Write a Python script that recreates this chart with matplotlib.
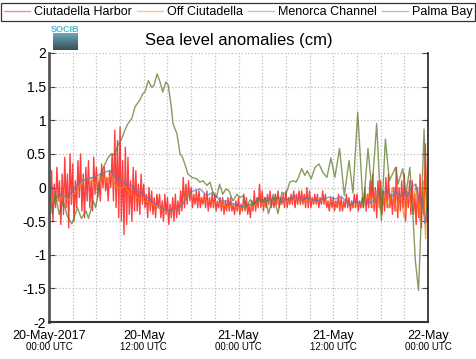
import numpy as np
import pandas as pd
import matplotlib
matplotlib.use('Agg')
import matplotlib.pyplot as plt
import matplotlib.dates as mdates

plt.rcParams['font.family'] = ['Liberation Sans', 'DejaVu Sans']

###############################################################################
# Data (hours since 20-May-2017 00:00 UTC, sea level anomaly in cm)
###############################################################################
START = pd.Timestamp('2017-05-20 00:00')
NAMES = ['Ciutadella Harbor', 'Off Ciutadella', 'Menorca Channel', 'Palma Bay']

# Ciutadella Harbor, sampled every 10 min (one row per hour)
harbor_step = 1 / 6
harbor_v = [
    0.1, -0.35, 0.25, -0.5, 0.05, -0.3,
    0.3, -0.2, 0.1, -0.55, 0.2, -0.4,
    0.45, -0.3, 0.2, -0.6, 0.5, -0.25,
    0.35, -0.5, 0.1, -0.3, 0.4, -0.15,
    0.5, -0.35, 0.2, -0.45, 0.3, -0.2,
    0.4, -0.3, 0.1, -0.35, 0.45, -0.1,
    0.3, -0.15, 0.1, -0.2, 0.35, 0.0,
    0.3, -0.05, 0.15, -0.2, 0.25, 0.0,
    0.5, -0.2, 0.85, -0.3, 0.7, -0.45,
    0.9, -0.5, 0.4, -0.7, 0.6, -0.55,
    0.45, -0.4, 0.1, -0.5, 0.3, -0.35,
    0.25, -0.35, 0.05, -0.4, 0.2, -0.25,
    0.05, -0.3, -0.1, -0.45, 0.0, -0.35,
    -0.05, -0.4, -0.15, -0.45, -0.1, -0.3,
    -0.1, -0.45, -0.2, -0.5, -0.1, -0.4,
    -0.15, -0.55, -0.25, -0.45, -0.15, -0.5,
    -0.1, -0.45, -0.2, -0.4, -0.05, -0.35,
    0.15, -0.3, 0.05, -0.25, 0.1, -0.2,
    0.0, -0.3, -0.1, -0.25, -0.05, -0.3,
    -0.05, -0.3, -0.15, -0.25, -0.1, -0.3,
    -0.05, -0.35, -0.15, -0.3, -0.1, -0.3,
    -0.1, -0.35, -0.2, -0.3, -0.15, -0.35,
    -0.15, -0.4, -0.2, -0.35, -0.15, -0.35,
    -0.15, -0.35, -0.25, -0.4, -0.2, -0.35,
    -0.15, -0.4, -0.25, -0.35, -0.1, -0.35,
    -0.15, -0.4, -0.25, -0.45, -0.2, -0.35,
    -0.05, -0.35, -0.15, -0.3, 0.05, -0.3,
    -0.05, -0.35, -0.15, -0.3, -0.1, -0.25,
    -0.05, -0.3, -0.15, -0.3, -0.1, -0.25,
    -0.05, -0.3, -0.15, -0.25, -0.1, -0.3,
    -0.05, -0.3, -0.15, -0.25, -0.1, -0.25,
    -0.05, -0.3, -0.1, -0.25, -0.05, -0.25,
    -0.05, -0.25, -0.1, -0.3, 0.0, -0.3,
    -0.05, -0.3, -0.15, -0.25, -0.1, -0.25,
    -0.1, -0.3, -0.15, -0.25, -0.05, -0.25,
    -0.1, -0.3, -0.2, -0.35, -0.15, -0.3,
    -0.15, -0.35, -0.2, -0.3, -0.1, -0.35,
    -0.15, -0.35, -0.2, -0.3, -0.1, -0.3,
    -0.15, -0.35, -0.2, -0.3, -0.1, -0.3,
    -0.1, -0.35, -0.2, -0.3, -0.15, -0.3,
    0.0, -0.35, -0.1, -0.3, 0.1, -0.3,
    0.2, -0.35, 0.0, -0.45, 0.1, -0.3,
    0.1, -0.4, -0.05, -0.35, 0.15, -0.3,
    0.2, -0.3, -0.1, -0.4, 0.0, -0.35,
    0.3, -0.45, 0.0, -0.35, 0.1, -0.3,
    0.2, -0.5, -0.05, -0.3, 0.1, -0.4,
    0.1, -0.4, -0.1, -0.55, 0.0, -0.45,
    0.2, -0.6, 0.0, -0.4, 0.65, -0.5,
]

off_t = [0.1, 0.5, 0.9, 1.4, 1.9, 2.4, 2.9, 3.5, 4.3, 5.2, 5.8, 6.5, 7.3, 7.9,
         8.4, 9.0, 9.6, 10.3, 11.1, 11.9, 12.7, 13.6, 14.5, 15.3, 16.0, 16.6,
         17.2, 17.6, 18.3, 19.1, 20.0, 20.8, 21.7, 22.5, 23.3, 24.2, 25.0,
         25.8, 26.5, 27.2, 28.0, 28.8, 29.6, 30.4, 31.2, 32.0, 32.8, 33.6,
         34.4, 35.2, 36.0, 36.8, 37.6, 38.4, 39.2, 40.0, 40.5, 41.0, 41.5,
         42.0, 42.5, 43.0, 43.5, 44.0, 44.5, 45.0, 45.5, 46.0, 46.5, 47.0,
         47.4, 47.7, 47.9]
off_v = [-0.05, -0.2, -0.08, -0.2, -0.1, -0.2, -0.12, -0.05, 0.1, 0.15, 0.05,
         0.18, 0.08, 0.2, 0.03, -0.02, 0.02, -0.1, -0.14, -0.2, -0.22, -0.29,
         -0.34, -0.37, -0.32, -0.3, -0.17, -0.07, -0.14, -0.15, -0.2, -0.22,
         -0.24, -0.29, -0.27, -0.32, -0.27, -0.3, -0.2, -0.25, -0.2, -0.22,
         -0.18, -0.22, -0.17, -0.22, -0.18, -0.22, -0.2, -0.24, -0.2, -0.28,
         -0.22, -0.3, -0.25, -0.22, -0.1, -0.3, -0.05, -0.35, -0.1, -0.3, 0.0,
         -0.35, -0.1, -0.45, -0.1, -0.35, 0.05, -0.5, 0.1, -0.76, 0.3]

chan_t = [0.1, 0.5, 1.0, 1.6, 2.2, 2.6, 3.1, 3.9, 4.8, 5.6, 6.5, 7.1, 7.7, 8.0,
          8.4, 9.0, 9.8, 10.6, 11.5, 12.4, 13.4, 14.5, 15.3, 16.2, 17.0, 17.6,
          18.3, 19.1, 20.0, 20.8, 21.7, 22.5, 23.3, 24.2, 24.8, 25.5, 26.1,
          26.9, 27.7, 28.3, 29.0, 29.7, 30.3, 31.1, 31.8, 32.5, 33.2, 34.0,
          34.8, 35.6, 36.3, 37.0, 38.1, 38.7, 39.3, 40.0, 40.8, 41.5, 41.9,
          42.3, 42.8, 43.4, 43.9, 44.4, 44.8, 45.3, 45.9, 46.4, 46.7, 47.0,
          47.3, 47.6, 47.9]
chan_v = [0.02, 0.0, -0.15, -0.1, -0.15, -0.12, -0.02, 0.08, 0.13, 0.15, 0.2,
          0.23, 0.25, 0.22, 0.15, 0.12, 0.05, 0.02, -0.07, -0.14, -0.24, -0.32,
          -0.35, -0.32, -0.24, -0.1, -0.05, -0.02, -0.12, -0.07, -0.2, -0.2,
          -0.24, -0.27, -0.29, -0.25, -0.24, -0.17, -0.2, -0.18, -0.14, -0.2,
          -0.17, -0.12, -0.2, -0.15, -0.18, -0.2, -0.17, -0.14, -0.17, -0.13,
          -0.27, -0.2, -0.23, -0.2, -0.23, -0.15, -0.02, -0.08, -0.05, -0.14,
          -0.05, -0.14, -0.08, -0.14, 0.0, 0.05, -0.1, -0.2, -0.18, -0.54,
          -0.3]

palma_t = [0.1, 0.4, 0.8, 1.3, 1.8, 2.3, 2.9, 3.6, 4.1, 4.7, 5.0, 5.6, 5.9,
           6.2, 6.5, 6.9, 7.5, 7.9, 8.3, 8.8, 9.2, 9.6, 10.0, 10.5, 10.9,
           11.5, 11.9, 12.16, 12.58, 13.0, 13.3, 13.7, 14.06, 14.4, 14.8,
           15.1, 15.5, 15.7, 16.2, 16.6, 16.9, 17.2, 17.6, 18.1, 18.7, 19.1,
           19.5, 20.0, 20.4, 20.8, 21.2, 21.6, 22.0, 22.4, 22.8, 23.3, 23.8,
           24.2, 24.6, 25.0, 25.5, 26.0, 26.5, 27.0, 27.4, 27.8, 28.4, 29.0,
           29.5, 30.0, 30.5, 30.9, 31.3, 31.6, 32.0, 32.4, 32.7, 33.2, 33.7,
           34.2, 34.7, 35.2, 35.7, 36.2, 36.8, 37.4, 38.0, 38.5, 39.1, 39.8,
           40.4, 40.9, 41.5, 42.1, 42.6, 43.1, 43.5, 43.9, 44.2, 44.8, 45.2,
           45.7, 46.1, 46.4, 46.8, 47.1, 47.5, 47.7, 47.9]
palma_v = [0.0, -0.39, -0.1, -0.4, -0.2, -0.42, -0.54, -0.3, -0.46, -0.35,
           -0.46, -0.2, -0.3, -0.1, 0.15, 0.3, 0.45, 0.5, 0.48, 0.65, 0.72,
           0.85, 0.95, 1.03, 1.2, 1.3, 1.4, 1.42, 1.59, 1.49, 1.52, 1.69,
           1.57, 1.42, 1.57, 1.52, 1.19, 0.95, 0.8, 0.5, 0.45, 0.35, 0.2,
           0.15, 0.13, 0.08, 0.1, 0.03, 0.08, -0.1, -0.15, 0.05, -0.1, -0.02,
           -0.05, -0.2, -0.1, -0.15, -0.12, -0.29, -0.18, -0.25, -0.15, -0.22,
           -0.15, -0.39, -0.1, -0.39, -0.07, -0.1, 0.08, 0.1, 0.08, 0.15,
           0.28, 0.18, 0.25, 0.13, 0.3, 0.35, 0.22, 0.15, 0.44, 0.15, 0.58,
           -0.12, 0.4, -0.08, 1.12, -0.3, 0.58, -0.05, 0.95, -0.49, 0.72, 0.1,
           0.2, 0.3, 0.05, 0.28, -0.1, 0.3, -0.44, -1.09, -1.53, -0.6, 0.87,
           0.1, -0.35]

COLORS = ['#ff0000', '#ff7f00', '#4f7fc0', '#5f7a2a']

###############################################################################
# Plot
###############################################################################
def to_time(hours):
    return START + pd.to_timedelta(np.asarray(hours, dtype=float), unit='h')

harbor_t = np.arange(len(harbor_v)) * harbor_step
series = [
    (harbor_t, harbor_v), (off_t, off_v), (chan_t, chan_v), (palma_t, palma_v)
]

fig = plt.figure(figsize=(4.76, 3.59), dpi=100)
ax = fig.add_axes([49/476, 1-322/359, 379/476, 269/359])

for (t, v), c, n in zip(series, COLORS, NAMES):
    ax.plot(to_time(t), v, color=c, lw=1.0, alpha=0.75, label=n)

ax.set_xlim(START, START + pd.Timedelta(hours=48))
ax.set_ylim(-2, 2)
ax.set_yticks(np.arange(-2, 2.01, 0.5))
ax.set_yticklabels(['-2', '-1.5', '-1', '-0.5', '0', '0.5', '1', '1.5', '2'])
ax.xaxis.set_major_locator(mdates.HourLocator(byhour=[0, 12]))
ax.xaxis.set_minor_locator(mdates.HourLocator(byhour=range(0, 24, 3)))
ax.set_xticklabels([])
ax.grid(True, which='both', axis='x', ls=':', color='#bbbbbb', lw=0.9)
ax.grid(True, which='major', axis='y', ls=':', color='#bbbbbb', lw=0.9)
ax.tick_params(axis='y', direction='in', right=True, length=4,
               labelsize=10, pad=2, color='#444444')
ax.tick_params(axis='x', which='both', length=0)
ax.spines['top'].set_visible(False)
ax.spines['left'].set_color('#555555')
ax.spines['left'].set_linewidth(2.0)
ax.spines['bottom'].set_color('#333333')
ax.spines['bottom'].set_linewidth(1.5)
ax.spines['right'].set_color('#222222')
ax.spines['right'].set_linewidth(1.2)

# Two-line date labels
day_lbl = ['20-May-2017', '20-May', '21-May', '21-May', '22-May']
hour_lbl = ['00:00 UTC', '12:00 UTC', '00:00 UTC', '12:00 UTC', '00:00 UTC']
trans = ax.get_xaxis_transform()
for h, d, u in zip([0, 12, 24, 36, 48], day_lbl, hour_lbl):
    x = mdates.date2num(START + pd.Timedelta(hours=h))
    ax.text(x, -0.03, d, transform=trans, ha='center', va='top', fontsize=9)
    ax.text(x, -0.074, u, transform=trans, ha='center', va='top', fontsize=7)

ax.set_title('Sea level anomalies (cm)', fontsize=12, pad=6)

leg = fig.legend(loc='upper center', bbox_to_anchor=(238/476, 1-3/359),
                 ncol=4, fontsize=9, frameon=True, fancybox=False,
                 edgecolor='black', handlelength=2.1, handletextpad=0.3,
                 borderpad=0.25, borderaxespad=0, columnspacing=0.4)
leg.get_frame().set_linewidth(0.9)
for h in leg.legend_handles:
    h.set_alpha(0.45)

# SOCIB logo
lax = fig.add_axes([53/476, 1-50/359, 25/476, 17/359])
grad = np.linspace(0, 1, 30).reshape(-1, 1)
lax.imshow(grad, aspect='auto', cmap=matplotlib.colors.LinearSegmentedColormap
           .from_list('socib', ['#6aa8b8', '#3c4e58']))
lax.axis('off')
fig.text(65.5/476, 1-29.5/359, 'SOCIB', color='#50b8cc', fontsize=6.5,
         ha='center', va='center', fontweight='bold')

fig.savefig('out.png', dpi=100)
